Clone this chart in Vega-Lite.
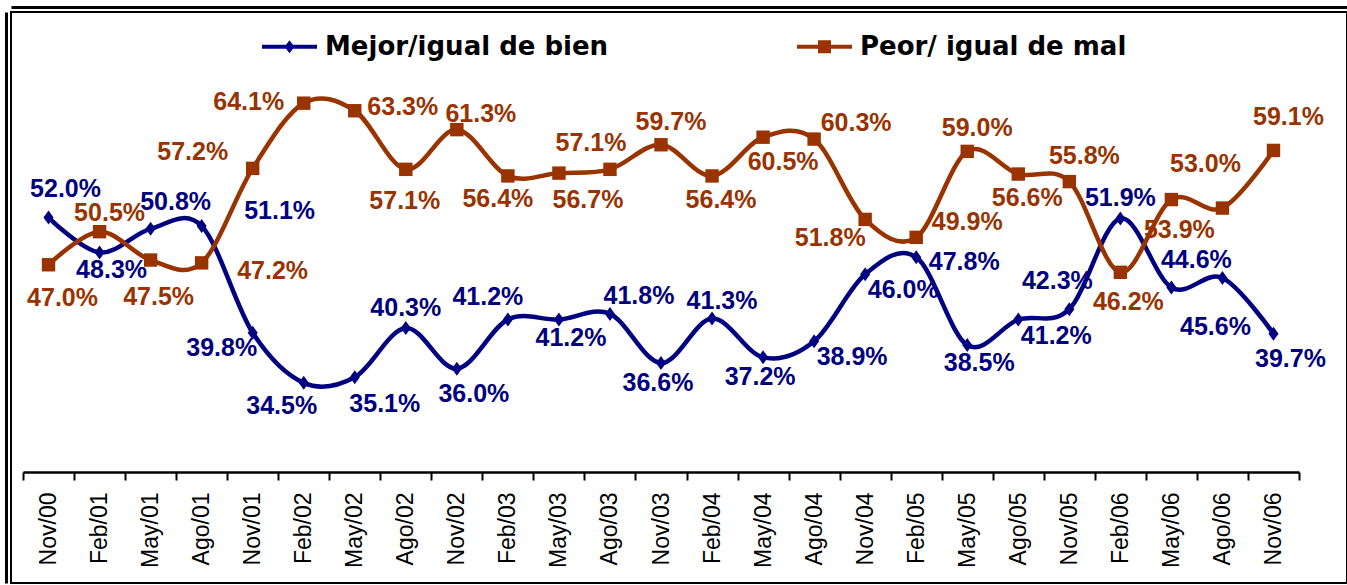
{
  "$schema": "https://vega.github.io/schema/vega-lite/v6.json",
  "width": 1336,
  "height": 571,
  "autosize": {"type": "none"},
  "padding": {"left": 11, "top": 12, "right": 0, "bottom": 2},
  "background": "white",
  "config": {
    "view": {"stroke": "black", "strokeWidth": 2},
    "text": {"font": "Liberation Sans", "fontSize": 25, "fontWeight": "bold", "baseline": "middle", "align": "center"}
  },
  "data": {
    "values": [
      {"date": "Nov/00", "serie": "Mejor/igual de bien", "value": 0.520},
      {"date": "Feb/01", "serie": "Mejor/igual de bien", "value": 0.483},
      {"date": "May/01", "serie": "Mejor/igual de bien", "value": 0.508},
      {"date": "Ago/01", "serie": "Mejor/igual de bien", "value": 0.511},
      {"date": "Nov/01", "serie": "Mejor/igual de bien", "value": 0.398},
      {"date": "Feb/02", "serie": "Mejor/igual de bien", "value": 0.345},
      {"date": "May/02", "serie": "Mejor/igual de bien", "value": 0.351},
      {"date": "Ago/02", "serie": "Mejor/igual de bien", "value": 0.403},
      {"date": "Nov/02", "serie": "Mejor/igual de bien", "value": 0.360},
      {"date": "Feb/03", "serie": "Mejor/igual de bien", "value": 0.412},
      {"date": "May/03", "serie": "Mejor/igual de bien", "value": 0.412},
      {"date": "Ago/03", "serie": "Mejor/igual de bien", "value": 0.418},
      {"date": "Nov/03", "serie": "Mejor/igual de bien", "value": 0.366},
      {"date": "Feb/04", "serie": "Mejor/igual de bien", "value": 0.413},
      {"date": "May/04", "serie": "Mejor/igual de bien", "value": 0.372},
      {"date": "Ago/04", "serie": "Mejor/igual de bien", "value": 0.389},
      {"date": "Nov/04", "serie": "Mejor/igual de bien", "value": 0.460},
      {"date": "Feb/05", "serie": "Mejor/igual de bien", "value": 0.478},
      {"date": "May/05", "serie": "Mejor/igual de bien", "value": 0.385},
      {"date": "Ago/05", "serie": "Mejor/igual de bien", "value": 0.412},
      {"date": "Nov/05", "serie": "Mejor/igual de bien", "value": 0.423},
      {"date": "Feb/06", "serie": "Mejor/igual de bien", "value": 0.519},
      {"date": "May/06", "serie": "Mejor/igual de bien", "value": 0.446},
      {"date": "Ago/06", "serie": "Mejor/igual de bien", "value": 0.456},
      {"date": "Nov/06", "serie": "Mejor/igual de bien", "value": 0.397},
      {"date": "Nov/00", "serie": "Peor/ igual de mal", "value": 0.470},
      {"date": "Feb/01", "serie": "Peor/ igual de mal", "value": 0.505},
      {"date": "May/01", "serie": "Peor/ igual de mal", "value": 0.475},
      {"date": "Ago/01", "serie": "Peor/ igual de mal", "value": 0.472},
      {"date": "Nov/01", "serie": "Peor/ igual de mal", "value": 0.572},
      {"date": "Feb/02", "serie": "Peor/ igual de mal", "value": 0.641},
      {"date": "May/02", "serie": "Peor/ igual de mal", "value": 0.633},
      {"date": "Ago/02", "serie": "Peor/ igual de mal", "value": 0.571},
      {"date": "Nov/02", "serie": "Peor/ igual de mal", "value": 0.613},
      {"date": "Feb/03", "serie": "Peor/ igual de mal", "value": 0.564},
      {"date": "May/03", "serie": "Peor/ igual de mal", "value": 0.567},
      {"date": "Ago/03", "serie": "Peor/ igual de mal", "value": 0.571},
      {"date": "Nov/03", "serie": "Peor/ igual de mal", "value": 0.597},
      {"date": "Feb/04", "serie": "Peor/ igual de mal", "value": 0.564},
      {"date": "May/04", "serie": "Peor/ igual de mal", "value": 0.605},
      {"date": "Ago/04", "serie": "Peor/ igual de mal", "value": 0.603},
      {"date": "Nov/04", "serie": "Peor/ igual de mal", "value": 0.518},
      {"date": "Feb/05", "serie": "Peor/ igual de mal", "value": 0.499},
      {"date": "May/05", "serie": "Peor/ igual de mal", "value": 0.590},
      {"date": "Ago/05", "serie": "Peor/ igual de mal", "value": 0.566},
      {"date": "Nov/05", "serie": "Peor/ igual de mal", "value": 0.558},
      {"date": "Feb/06", "serie": "Peor/ igual de mal", "value": 0.462},
      {"date": "May/06", "serie": "Peor/ igual de mal", "value": 0.539},
      {"date": "Ago/06", "serie": "Peor/ igual de mal", "value": 0.530},
      {"date": "Nov/06", "serie": "Peor/ igual de mal", "value": 0.591}
    ]
  },
  "resolve": {"scale": {"x": "independent"}, "axis": {"x": "independent"}},
  "layer": [
    {
      "encoding": {
        "x": {
          "field": "date", "type": "ordinal", "bandPosition": 0.5,
          "scale": {"type": "band", "range": [12, 1288], "paddingInner": 0, "paddingOuter": 0,
            "domain": ["Nov/00", "Feb/01", "May/01", "Ago/01", "Nov/01", "Feb/02", "May/02", "Ago/02", "Nov/02", "Feb/03", "May/03", "Ago/03", "Nov/03", "Feb/04", "May/04", "Ago/04", "Nov/04", "Feb/05", "May/05", "Ago/05", "Nov/05", "Feb/06", "May/06", "Ago/06", "Nov/06"]},
          "axis": {
            "orient": "bottom", "offset": -111, "title": null, "grid": false,
            "domainColor": "black", "domainWidth": 2.5, "tickBand": "extent",
            "tickColor": "black", "tickWidth": 2, "tickSize": 8,
            "labelAngle": -90, "labelFont": "Liberation Sans", "labelFontSize": 23,
            "labelColor": "black", "labelPadding": 12
          }
        },
        "y": {
          "field": "value", "type": "quantitative",
          "scale": {"domain": [0.1332, 0.7375], "nice": false, "zero": false},
          "axis": {"orient": "left", "offset": 5, "domainWidth": 3, "domainColor": "black", "ticks": false, "labels": false, "grid": false, "title": null}
        }
      },
      "layer": [
        {"transform": [{"filter": {"and": [{"field": "serie", "equal": "Mejor/igual de bien"}, {"field": "date", "oneOf": ["Nov/00"]}]}}], "mark": {"type": "text", "dx": 17, "dy": -29, "color": "#000080"}, "encoding": {"text": {"field": "value", "format": ".1%"}}},
        {"transform": [{"filter": {"and": [{"field": "serie", "equal": "Mejor/igual de bien"}, {"field": "date", "oneOf": ["May/01", "May/06"]}]}}], "mark": {"type": "text", "dx": 25, "dy": -27, "color": "#000080"}, "encoding": {"text": {"field": "value", "format": ".1%"}}},
        {"transform": [{"filter": {"and": [{"field": "serie", "equal": "Mejor/igual de bien"}, {"field": "date", "oneOf": ["Feb/01", "May/03", "May/05"]}]}}], "mark": {"type": "text", "dx": 12, "dy": 18, "color": "#000080"}, "encoding": {"text": {"field": "value", "format": ".1%"}}},
        {"transform": [{"filter": {"and": [{"field": "serie", "equal": "Mejor/igual de bien"}, {"field": "date", "oneOf": ["Nov/02", "Nov/06"]}]}}], "mark": {"type": "text", "dx": 17, "dy": 25, "color": "#000080"}, "encoding": {"text": {"field": "value", "format": ".1%"}}},
        {"transform": [{"filter": {"and": [{"field": "serie", "equal": "Mejor/igual de bien"}, {"field": "date", "oneOf": ["May/02"]}]}}], "mark": {"type": "text", "dx": 30, "dy": 27, "color": "#000080"}, "encoding": {"text": {"field": "value", "format": ".1%"}}},
        {"transform": [{"filter": {"and": [{"field": "serie", "equal": "Mejor/igual de bien"}, {"field": "date", "oneOf": ["Nov/03", "May/04"]}]}}], "mark": {"type": "text", "dx": -3, "dy": 20, "color": "#000080"}, "encoding": {"text": {"field": "value", "format": ".1%"}}},
        {"transform": [{"filter": {"and": [{"field": "serie", "equal": "Mejor/igual de bien"}, {"field": "date", "oneOf": ["Ago/02", "Feb/06"]}]}}], "mark": {"type": "text", "dx": 0, "dy": -20, "color": "#000080"}, "encoding": {"text": {"field": "value", "format": ".1%"}}},
        {"transform": [{"filter": {"and": [{"field": "serie", "equal": "Mejor/igual de bien"}, {"field": "date", "oneOf": ["Feb/03"]}]}}], "mark": {"type": "text", "dx": -20, "dy": -23, "color": "#000080"}, "encoding": {"text": {"field": "value", "format": ".1%"}}},
        {"transform": [{"filter": {"and": [{"field": "serie", "equal": "Mejor/igual de bien"}, {"field": "date", "oneOf": ["Nov/05"]}]}}], "mark": {"type": "text", "dx": -12, "dy": -28, "color": "#000080"}, "encoding": {"text": {"field": "value", "format": ".1%"}}},
        {"transform": [{"filter": {"and": [{"field": "serie", "equal": "Mejor/igual de bien"}, {"field": "date", "oneOf": ["Ago/03"]}]}}], "mark": {"type": "text", "dx": 29, "dy": -18, "color": "#000080"}, "encoding": {"text": {"field": "value", "format": ".1%"}}},
        {"transform": [{"filter": {"and": [{"field": "serie", "equal": "Mejor/igual de bien"}, {"field": "date", "oneOf": ["Feb/04"]}]}}], "mark": {"type": "text", "dx": 10, "dy": -18, "color": "#000080"}, "encoding": {"text": {"field": "value", "format": ".1%"}}},
        {"transform": [{"filter": {"and": [{"field": "serie", "equal": "Mejor/igual de bien"}, {"field": "date", "oneOf": ["Ago/04", "Nov/04", "Ago/05"]}]}}], "mark": {"type": "text", "dx": 38, "dy": 16, "color": "#000080"}, "encoding": {"text": {"field": "value", "format": ".1%"}}},
        {"transform": [{"filter": {"and": [{"field": "serie", "equal": "Mejor/igual de bien"}, {"field": "date", "oneOf": ["Feb/05"]}]}}], "mark": {"type": "text", "dx": 48, "dy": 5, "color": "#000080"}, "encoding": {"text": {"field": "value", "format": ".1%"}}},
        {"transform": [{"filter": {"and": [{"field": "serie", "equal": "Mejor/igual de bien"}, {"field": "date", "oneOf": ["Nov/01"]}]}}], "mark": {"type": "text", "dx": -31, "dy": 15, "color": "#000080"}, "encoding": {"text": {"field": "value", "format": ".1%"}}},
        {"transform": [{"filter": {"and": [{"field": "serie", "equal": "Mejor/igual de bien"}, {"field": "date", "oneOf": ["Feb/02"]}]}}], "mark": {"type": "text", "dx": -22, "dy": 23, "color": "#000080"}, "encoding": {"text": {"field": "value", "format": ".1%"}}},
        {"transform": [{"filter": {"and": [{"field": "serie", "equal": "Mejor/igual de bien"}, {"field": "date", "oneOf": ["Ago/01"]}]}}], "mark": {"type": "text", "dx": 78, "dy": -15, "color": "#000080"}, "encoding": {"text": {"field": "value", "format": ".1%"}}},
        {"transform": [{"filter": {"and": [{"field": "serie", "equal": "Mejor/igual de bien"}, {"field": "date", "oneOf": ["Ago/06"]}]}}], "mark": {"type": "text", "dx": -7, "dy": 49, "color": "#000080"}, "encoding": {"text": {"field": "value", "format": ".1%"}}},

        {"transform": [{"filter": {"and": [{"field": "serie", "equal": "Peor/ igual de mal"}, {"field": "date", "oneOf": ["Nov/00"]}]}}], "mark": {"type": "text", "dx": 14, "dy": 33, "color": "#993300"}, "encoding": {"text": {"field": "value", "format": ".1%"}}},
        {"transform": [{"filter": {"and": [{"field": "serie", "equal": "Peor/ igual de mal"}, {"field": "date", "oneOf": ["Feb/01"]}]}}], "mark": {"type": "text", "dx": 10, "dy": -19, "color": "#993300"}, "encoding": {"text": {"field": "value", "format": ".1%"}}},
        {"transform": [{"filter": {"and": [{"field": "serie", "equal": "Peor/ igual de mal"}, {"field": "date", "oneOf": ["Nov/03", "May/05"]}]}}], "mark": {"type": "text", "dx": 10, "dy": -23, "color": "#993300"}, "encoding": {"text": {"field": "value", "format": ".1%"}}},
        {"transform": [{"filter": {"and": [{"field": "serie", "equal": "Peor/ igual de mal"}, {"field": "date", "oneOf": ["May/01"]}]}}], "mark": {"type": "text", "dx": 8, "dy": 37, "color": "#993300"}, "encoding": {"text": {"field": "value", "format": ".1%"}}},
        {"transform": [{"filter": {"and": [{"field": "serie", "equal": "Peor/ igual de mal"}, {"field": "date", "oneOf": ["Ago/01"]}]}}], "mark": {"type": "text", "dx": 71, "dy": 8, "color": "#993300"}, "encoding": {"text": {"field": "value", "format": ".1%"}}},
        {"transform": [{"filter": {"and": [{"field": "serie", "equal": "Peor/ igual de mal"}, {"field": "date", "oneOf": ["Nov/01"]}]}}], "mark": {"type": "text", "dx": -60, "dy": -16, "color": "#993300"}, "encoding": {"text": {"field": "value", "format": ".1%"}}},
        {"transform": [{"filter": {"and": [{"field": "serie", "equal": "Peor/ igual de mal"}, {"field": "date", "oneOf": ["Feb/02"]}]}}], "mark": {"type": "text", "dx": -55, "dy": -1, "color": "#993300"}, "encoding": {"text": {"field": "value", "format": ".1%"}}},
        {"transform": [{"filter": {"and": [{"field": "serie", "equal": "Peor/ igual de mal"}, {"field": "date", "oneOf": ["May/02"]}]}}], "mark": {"type": "text", "dx": 48, "dy": -4, "color": "#993300"}, "encoding": {"text": {"field": "value", "format": ".1%"}}},
        {"transform": [{"filter": {"and": [{"field": "serie", "equal": "Peor/ igual de mal"}, {"field": "date", "oneOf": ["Ago/02"]}]}}], "mark": {"type": "text", "dx": -1, "dy": 32, "color": "#993300"}, "encoding": {"text": {"field": "value", "format": ".1%"}}},
        {"transform": [{"filter": {"and": [{"field": "serie", "equal": "Peor/ igual de mal"}, {"field": "date", "oneOf": ["Nov/02"]}]}}], "mark": {"type": "text", "dx": 24, "dy": -16, "color": "#993300"}, "encoding": {"text": {"field": "value", "format": ".1%"}}},
        {"transform": [{"filter": {"and": [{"field": "serie", "equal": "Peor/ igual de mal"}, {"field": "date", "oneOf": ["Feb/03"]}]}}], "mark": {"type": "text", "dx": -10, "dy": 23, "color": "#993300"}, "encoding": {"text": {"field": "value", "format": ".1%"}}},
        {"transform": [{"filter": {"and": [{"field": "serie", "equal": "Peor/ igual de mal"}, {"field": "date", "oneOf": ["May/03"]}]}}], "mark": {"type": "text", "dx": 29, "dy": 27, "color": "#993300"}, "encoding": {"text": {"field": "value", "format": ".1%"}}},
        {"transform": [{"filter": {"and": [{"field": "serie", "equal": "Peor/ igual de mal"}, {"field": "date", "oneOf": ["Ago/03"]}]}}], "mark": {"type": "text", "dx": -19, "dy": -26, "color": "#993300"}, "encoding": {"text": {"field": "value", "format": ".1%"}}},
        {"transform": [{"filter": {"and": [{"field": "serie", "equal": "Peor/ igual de mal"}, {"field": "date", "oneOf": ["Feb/04", "Ago/05"]}]}}], "mark": {"type": "text", "dx": 9, "dy": 24, "color": "#993300"}, "encoding": {"text": {"field": "value", "format": ".1%"}}},
        {"transform": [{"filter": {"and": [{"field": "serie", "equal": "Peor/ igual de mal"}, {"field": "date", "oneOf": ["May/04"]}]}}], "mark": {"type": "text", "dx": 20, "dy": 25, "color": "#993300"}, "encoding": {"text": {"field": "value", "format": ".1%"}}},
        {"transform": [{"filter": {"and": [{"field": "serie", "equal": "Peor/ igual de mal"}, {"field": "date", "oneOf": ["Ago/04"]}]}}], "mark": {"type": "text", "dx": 42, "dy": -16, "color": "#993300"}, "encoding": {"text": {"field": "value", "format": ".1%"}}},
        {"transform": [{"filter": {"and": [{"field": "serie", "equal": "Peor/ igual de mal"}, {"field": "date", "oneOf": ["Nov/04"]}]}}], "mark": {"type": "text", "dx": -35, "dy": 19, "color": "#993300"}, "encoding": {"text": {"field": "value", "format": ".1%"}}},
        {"transform": [{"filter": {"and": [{"field": "serie", "equal": "Peor/ igual de mal"}, {"field": "date", "oneOf": ["Feb/05"]}]}}], "mark": {"type": "text", "dx": 51, "dy": -15, "color": "#993300"}, "encoding": {"text": {"field": "value", "format": ".1%"}}},
        {"transform": [{"filter": {"and": [{"field": "serie", "equal": "Peor/ igual de mal"}, {"field": "date", "oneOf": ["Nov/05"]}]}}], "mark": {"type": "text", "dx": 15, "dy": -26, "color": "#993300"}, "encoding": {"text": {"field": "value", "format": ".1%"}}},
        {"transform": [{"filter": {"and": [{"field": "serie", "equal": "Peor/ igual de mal"}, {"field": "date", "oneOf": ["Feb/06", "May/06"]}]}}], "mark": {"type": "text", "dx": 8, "dy": 30, "color": "#993300"}, "encoding": {"text": {"field": "value", "format": ".1%"}}},
        {"transform": [{"filter": {"and": [{"field": "serie", "equal": "Peor/ igual de mal"}, {"field": "date", "oneOf": ["Ago/06"]}]}}], "mark": {"type": "text", "dx": -17, "dy": -44, "color": "#993300"}, "encoding": {"text": {"field": "value", "format": ".1%"}}},
        {"transform": [{"filter": {"and": [{"field": "serie", "equal": "Peor/ igual de mal"}, {"field": "date", "oneOf": ["Nov/06"]}]}}], "mark": {"type": "text", "dx": 15, "dy": -33, "color": "#993300"}, "encoding": {"text": {"field": "value", "format": ".1%"}}},

        {"transform": [{"filter": {"field": "serie", "equal": "Mejor/igual de bien"}}], "mark": {"type": "line", "interpolate": "cardinal", "strokeWidth": 4.5, "color": "#000080", "strokeCap": "round", "strokeJoin": "round"}, "encoding": {}},
        {"transform": [{"filter": {"field": "serie", "equal": "Mejor/igual de bien"}}], "mark": {"type": "point", "filled": true, "opacity": 1, "size": 196, "shape": "M0,-1L0.72,0L0,1L-0.72,0Z", "color": "#000080"}, "encoding": {}},
        {"transform": [{"filter": {"field": "serie", "equal": "Peor/ igual de mal"}}], "mark": {"type": "line", "interpolate": "cardinal", "strokeWidth": 4.5, "color": "#993300", "strokeCap": "round", "strokeJoin": "round"}, "encoding": {}},
        {"transform": [{"filter": {"field": "serie", "equal": "Peor/ igual de mal"}}], "mark": {"type": "point", "filled": true, "opacity": 1, "size": 180, "shape": "square", "color": "#993300"}, "encoding": {}},

        {
          "transform": [{"filter": "false"}],
          "mark": {"type": "point", "filled": true, "opacity": 1},
          "encoding": {
            "color": {
              "field": "serie", "type": "nominal",
              "scale": {"domain": ["Mejor/igual de bien", "Peor/ igual de mal"], "range": ["#000080", "#993300"]},
              "legend": {
                "orient": "none", "legendX": 251, "legendY": 7, "direction": "horizontal", "title": null,
                "labelFont": "DejaVu Sans", "labelFontSize": 26, "labelFontWeight": "bold", "labelColor": "black",
                "labelLimit": 0, "labelOffset": 8, "columnPadding": 188,
                "symbolSize": 3025, "symbolOpacity": 1, "symbolStrokeWidth": 0
              }
            },
            "shape": {
              "field": "serie", "type": "nominal",
              "scale": {"domain": ["Mejor/igual de bien", "Peor/ igual de mal"], "range": ["M-1,-0.075L1,-0.075L1,0.075L-1,0.075Z M0,-0.24L0.18,0L0,0.24L-0.18,0Z", "M-1,-0.075L1,-0.075L1,0.075L-1,0.075Z M-0.236,-0.236L0.236,-0.236L0.236,0.236L-0.236,0.236Z"]}
            }
          }
        }
      ]
    },
    {
      "mark": {"type": "point", "opacity": 0},
      "encoding": {
        "x": {"field": "date", "type": "ordinal", "sort": null, "axis": {"orient": "top", "offset": 5, "domainWidth": 3, "domainColor": "black", "ticks": false, "labels": false, "title": null, "grid": false}}
      }
    }
  ]
}
